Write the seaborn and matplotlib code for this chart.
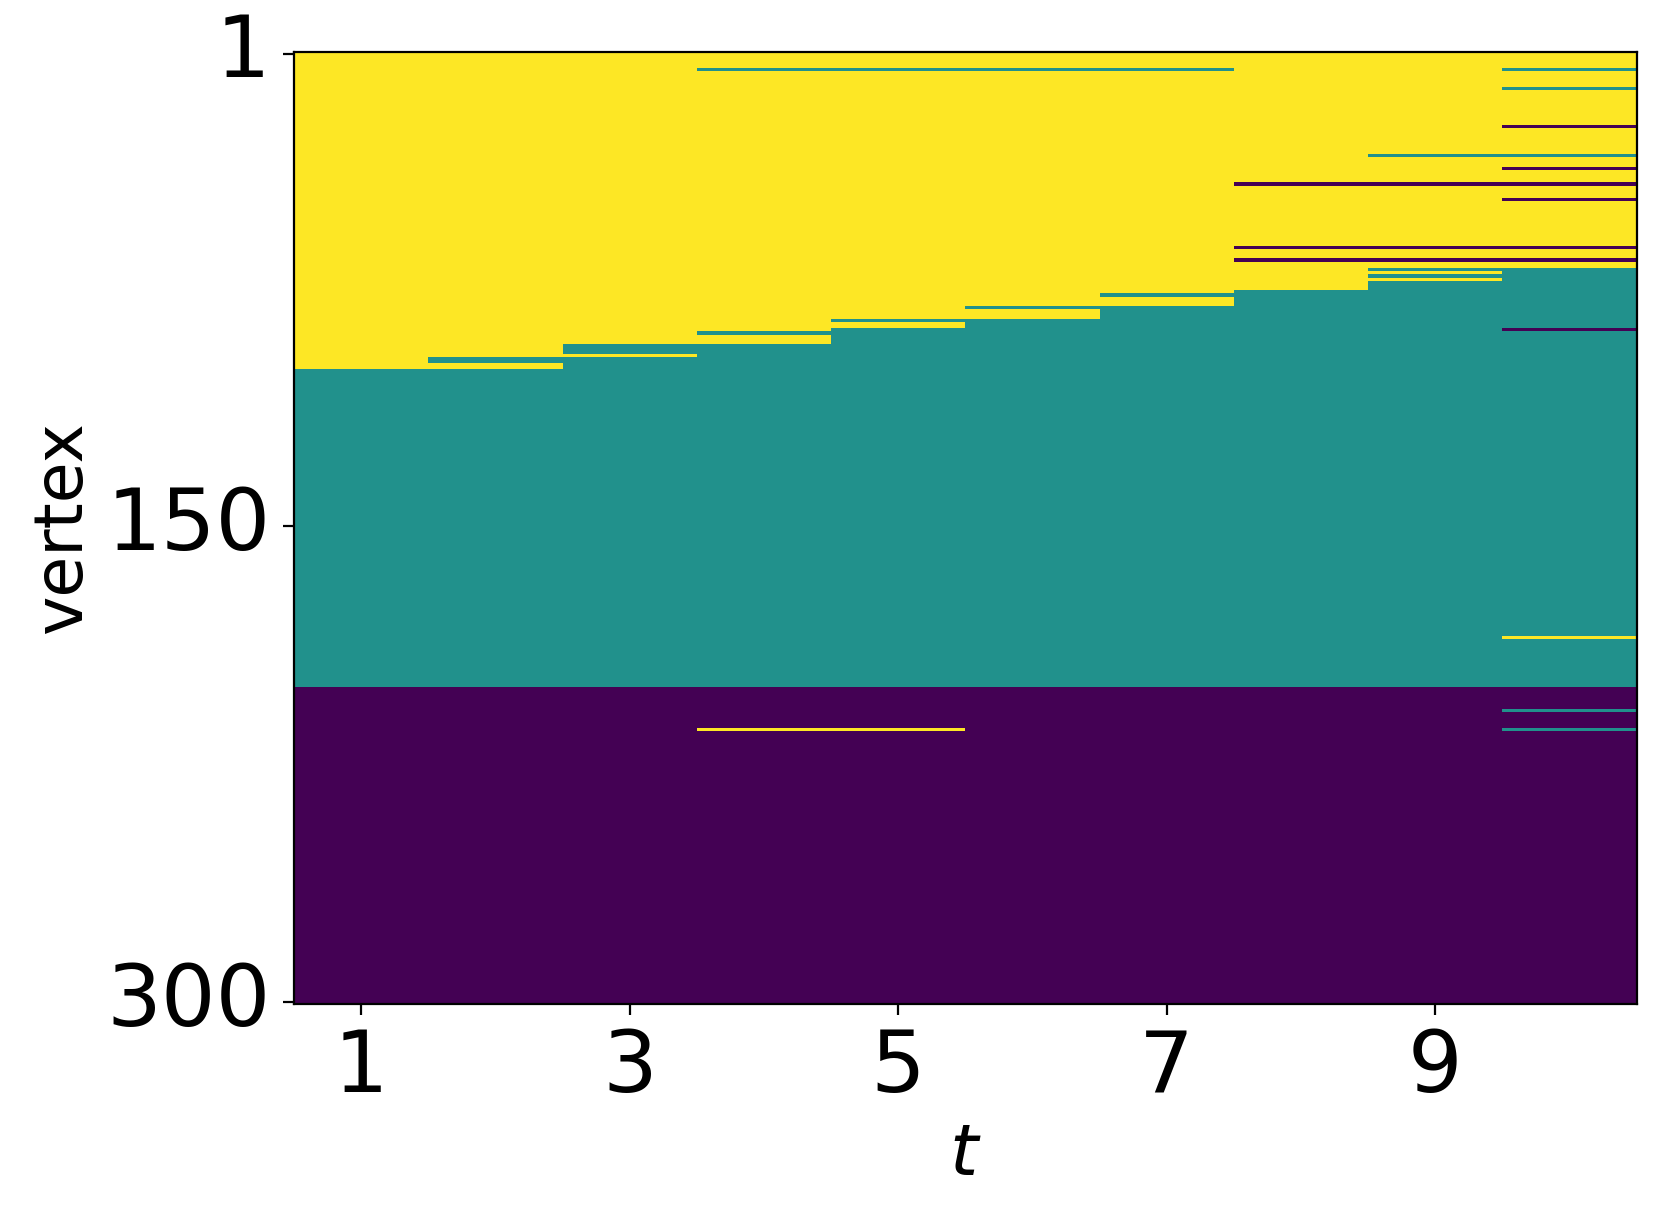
import numpy as np
import pandas as pd
import matplotlib
matplotlib.use("Agg")
import matplotlib.pyplot as plt
import seaborn as sns

# community labels: 0 = purple, 1 = teal, 2 = yellow
n_vertex = 300
times = [1, 2, 3, 4, 5, 6, 7, 8, 9, 10]

# first row (0-based) of the main teal block at each time step
teal_start = [100, 100, 96, 92, 87, 84, 80, 75, 72, 68]
# first row of the purple block (same for every step)
purple_start = [200, 200, 200, 200, 200, 200, 200, 200, 200, 200]

# single-vertex exceptions: row, first t, last t, label
exc_rows = [96, 97, 92, 93, 94, 88, 84, 80, 76, 68, 70,
            5, 5, 11, 23, 32, 36, 41, 46, 61, 65, 87,
            184, 207, 213, 213]
exc_t0 = [2, 2, 3, 3, 3, 4, 5, 6, 7, 9, 9,
          4, 10, 10, 10, 9, 10, 8, 10, 8, 8, 10,
          10, 10, 4, 10]
exc_t1 = [2, 2, 3, 3, 3, 4, 5, 6, 7, 9, 9,
          7, 10, 10, 10, 10, 10, 10, 10, 10, 10, 10,
          10, 10, 5, 10]
exc_val = [1, 1, 1, 1, 1, 1, 1, 1, 1, 1, 1,
           1, 1, 1, 0, 1, 0, 0, 0, 0, 0, 0,
           2, 1, 2, 1]

# build the vertex x time label table
labels = np.zeros((n_vertex, len(times)), dtype=int)
for j, t in enumerate(times):
    labels[:teal_start[j], j] = 2
    labels[teal_start[j]:purple_start[j], j] = 1
    labels[purple_start[j]:, j] = 0
for r, a, b, v in zip(exc_rows, exc_t0, exc_t1, exc_val):
    labels[r, a - 1:b] = v

df = pd.DataFrame(labels, index=range(1, n_vertex + 1), columns=times)

fig = plt.figure(figsize=(8.305, 6.09), dpi=200)
ax = fig.add_axes([0.177, 0.176, 0.8083, 0.781])

sns.heatmap(df, ax=ax, cmap="viridis", vmin=0, vmax=2, cbar=False,
            rasterized=True)

# heatmap drops the spines, put the frame back
for s in ax.spines.values():
    s.set_visible(True)
    s.set_color("black")
    s.set_linewidth(0.8)

ax.set_xticks([0.5, 2.5, 4.5, 6.5, 8.5])
ax.set_xticklabels(["1", "3", "5", "7", "9"], rotation=0, fontsize=31)
ax.set_yticks([0.5, 149.5, 299.5])
ax.set_yticklabels(["1", "150", "300"], rotation=0, fontsize=31)
ax.tick_params(axis="both", length=4, width=0.8, pad=4.5, color="black")

ax.set_xlabel(r"$t$", fontsize=26)
ax.set_ylabel("vertex", fontsize=24)

fig.savefig("out.png", dpi=200)
